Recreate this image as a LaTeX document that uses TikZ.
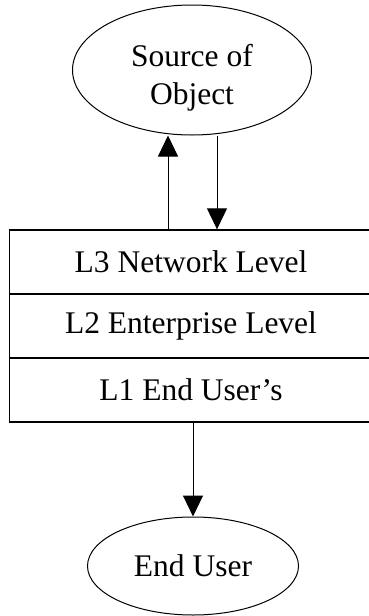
\documentclass[tikz,border=0pt]{standalone}
\usepackage{fontspec}
\setmainfont{Liberation Serif}
\usetikzlibrary{arrows.meta,shapes.geometric}
\begin{document}
\begin{tikzpicture}[x=1pt,y=-1pt,
  every node/.style={font=\fontsize{31.5}{38}\selectfont},
  oval/.style={draw,ellipse,line width=1pt,inner sep=0pt,align=center},
  level/.style={draw,rectangle,line width=1.4pt,minimum width=363pt,minimum height=64pt,inner sep=0pt},
  arr/.style={line width=1pt,-{Triangle[width=20pt,length=21pt]}}]
\useasboundingbox (0,0) rectangle (369,616);
\node[oval,minimum width=239pt,minimum height=130pt] (src) at (192,70) {\rule{0pt}{38pt}Source of\\Object};
\node[level] (L3) at (191,262) {L3 Network Level};
\node[level] (L2) at (191,326) {L2 Enterprise Level};
\node[level] (L1) at (191,390) {L1 End User’s};
\node[oval,minimum width=211pt,minimum height=98pt] (eu) at (193,566) {End User};
\coordinate (upx) at (168,0);
\coordinate (dnx) at (217,0);
\coordinate (bx) at (193,0);
\draw[arr] (upx |- L3.north) -- (upx |- src.south);
\draw[arr] (dnx |- src.south) -- (dnx |- L3.north);
\draw[arr] (bx |- L1.south) -- (eu.north);
\end{tikzpicture}
\end{document}
